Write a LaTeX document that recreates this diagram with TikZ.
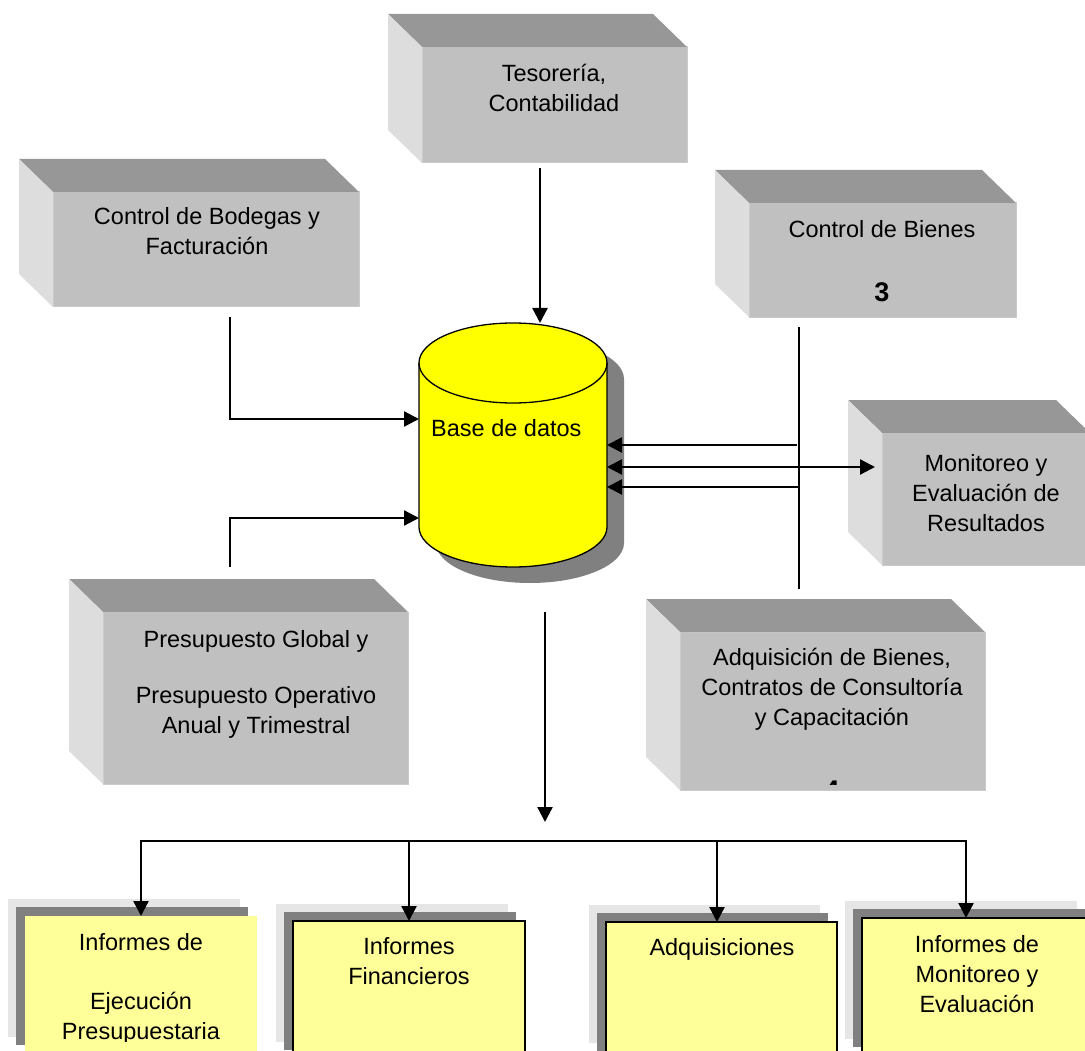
\documentclass[tikz,border=0pt]{standalone}
\usepackage{fontspec}
\setmainfont{Liberation Sans}
\usetikzlibrary{arrows.meta,calc}

\definecolor{caraF}{HTML}{C0C0C0}
\definecolor{caraT}{HTML}{979797}
\definecolor{caraL}{HTML}{DDDDDD}
\definecolor{borde}{HTML}{CACACA}
\definecolor{amarillo}{HTML}{FFFF00}
\definecolor{crema}{HTML}{FFFF99}
\definecolor{sombraO}{HTML}{808080}
\definecolor{sombraC}{HTML}{E6E6E6}

% centred multi-line label whose baseline is the first line
\newcommand\etiq[1]{\begin{tabular}[t]{@{}c@{}}#1\end{tabular}}

% 3D box: name, front face x1,y1,x2,y2 (top face and left face behind it)
\newcommand\cubo[5]{%
  \node[frente, minimum width={(#4-#2)*1pt}, minimum height={(#5-#3)*1pt}] (#1) at ({(#2+#4)/2},{(#3+#5)/2}) {};
  \fill[caraT] (#1.north west) -- ++(-34,-33) -- ++({#4-#2},0) -- (#1.north east) -- cycle;
  \fill[caraL] (#1.north west) -- ++(-34,-33) -- ++(0,{#5-#3}) -- (#1.south west) -- cycle;
}

% report sheet with two stacked shadows: name, x1, y1, x2, extra style
\newcommand\informe[5]{%
  \fill[sombraC] ({#2-17},{#3-17}) rectangle ({#4-17},{#3+121});
  \fill[sombraO] ({#2-9},{#3-9}) rectangle ({#4-9},{#3+129});
  \node[hoja, #5, minimum width={(#4-#2)*1pt}, minimum height=138pt] (#1) at ({(#2+#4)/2},{#3+69}) {};
}

\tikzset{
  frente/.style={fill=caraF, draw=borde, line width=1pt, inner sep=0pt, outer sep=0pt},
  hoja/.style={fill=crema, inner sep=0pt, outer sep=0pt},
  conborde/.style={draw=black, line width=2pt},
  flecha/.style={line width=2.3pt, -{Triangle[length=15pt,width=15pt]}},
  doble/.style={line width=2.3pt, {Triangle[length=15pt,width=15pt]}-{Triangle[length=15pt,width=15pt]}},
  linea/.style={line width=1.8pt},
  texto/.style={anchor=base, inner sep=0pt},
}

\begin{document}
\begin{tikzpicture}[x=1pt, y=-1pt, font=\fontsize{23.5}{30}\selectfont]
\useasboundingbox (0,0) rectangle (1085,1051);
\clip (0,0) rectangle (1085,1051);

% modules
\cubo{tes}{422}{47}{687}{163}
\cubo{bod}{53}{192}{359}{307}
\cubo{bie}{749}{203}{1016}{317}
\cubo{mon}{882}{433}{1090}{565}
\cubo{pre}{103}{612}{408}{784}
\cubo{adq}{680}{632}{985}{790}

% database cylinder with its drop shadow
\node[inner sep=0pt, outer sep=0pt, minimum width=188pt, minimum height=244pt] (bd) at (513,445) {};
\fill[sombraO] (436,379) -- (436,543)
  arc[start angle=180, end angle=360, x radius=94pt, y radius=40pt] -- (624,379)
  arc[start angle=0, end angle=180, x radius=94pt, y radius=40pt] -- cycle;
\filldraw[fill=amarillo, draw=black, line width=1.3pt] (419,363) -- (419,527)
  arc[start angle=180, end angle=360, x radius=94pt, y radius=40pt] -- (607,363)
  arc[start angle=0, end angle=180, x radius=94pt, y radius=40pt] -- cycle;
\draw[black, line width=1.3pt] (419,363) arc[start angle=180, end angle=360, x radius=94pt, y radius=40pt];

% reports
\informe{ie}{25}{916}{257}{}
\informe{if}{293}{921}{525}{conborde}
\informe{ia}{606}{922}{837}{conborde}
\informe{im}{862}{918}{1094}{conborde}

% connectors into the database
\coordinate (tesout) at (540,168);
\draw[flecha] (tesout) -- (tesout |- bd.north);
\coordinate (bodout) at (230,317);
\draw[flecha] (bodout) |- (bd.west |- 0,419);
\coordinate (preout) at (230,567);
\draw[flecha] (preout) |- (bd.west |- 0,518);

% right-hand collector line
\coordinate (vtop) at (799,327);
\coordinate (vbot) at (799,589);
\draw[linea] (vtop) -- (vbot);
\coordinate (r1) at (797,445);
\draw[flecha] (r1) -- (bd.east |- r1);
\coordinate (monin) at (875,467);
\draw[doble] (bd.east |- monin) -- (monin);
\coordinate (r3) at (799,487);
\draw[flecha] (r3) -- (bd.east |- r3);

% output to reports
\coordinate (bdout) at (545,612);
\coordinate (busin) at (545,822);
\draw[flecha] (bdout) -- (busin);
\coordinate (busm) at (545,841);
\coordinate (bus1) at (141,841);
\coordinate (bus2) at (409,841);
\coordinate (bus3) at (717,841);
\coordinate (bus4) at (966,841);
\draw[flecha] (busm) -| (bus1 |- ie.north);
\draw[flecha] (busm) -| (bus4 |- im.north);
\draw[flecha] (bus2) -- (bus2 |- if.north);
\draw[flecha] (bus3) -- (bus3 |- ia.north);

% labels
\node[texto] (tTes) at (554,82) {\etiq{Tesorería,\\Contabilidad}};
\node[texto] (tBod) at (207,225) {\etiq{Control de Bodegas y\\Facturación}};
\node[texto] (tBie) at (882,238) {\etiq{Control de Bienes\\[34pt]\textbf{\fontsize{27}{30}\selectfont 3}}};
\node[texto] (tMon) at (986,471) {\etiq{Monitoreo y\\Evaluación de\\Resultados}};
\node[texto] (tPre) at (256,647) {\etiq{Presupuesto Global y\\[26pt]Presupuesto Operativo\\Anual y Trimestral}};
\begin{scope}
  \clip (600,600) rectangle (1000,784);
  \node[texto] (tAdq) at (832,665) {\etiq{Adquisición de Bienes,\\Contratos de Consultoría\\y Capacitación\\[44pt]\textbf{\fontsize{27}{30}\selectfont 4}}};
\end{scope}
\node[anchor=base west, inner sep=0pt] (tBd) at (431,436) {Base de datos};

\begin{scope}
  \clip (0,0) rectangle (1085,1041);
  \node[texto] (tIe) at (141,950) {\etiq{Informes de\\[29pt]Ejecución\\Presupuestaria}};
\end{scope}
\node[texto] (tIf) at (409,954) {\etiq{Informes\\Financieros}};
\node[texto] (tIa) at (722,955) {Adquisiciones};
\node[texto] (tIm) at (977,952) {\etiq{Informes de\\Monitoreo y\\Evaluación}};
\end{tikzpicture}
\end{document}
